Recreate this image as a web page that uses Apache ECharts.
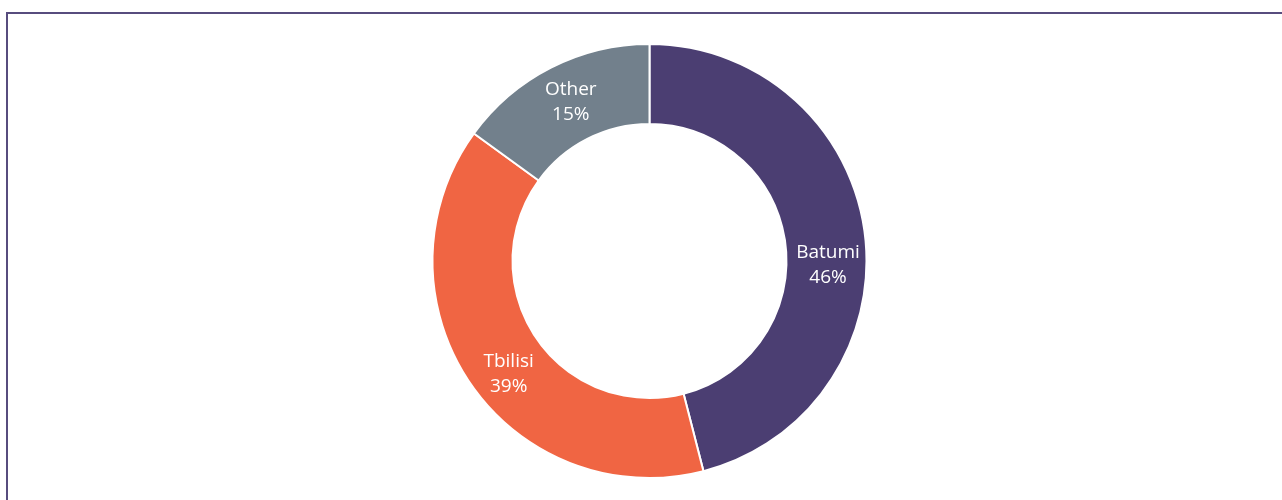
<!DOCTYPE html>
<html>
<head>
<meta charset="utf-8">
<script src="https://cdn.jsdelivr.net/npm/echarts@6/dist/echarts.min.js"></script>
<style>
	html, body { margin: 0; padding: 0; background: #fff; }
	#wrap { position: relative; width: 1282px; height: 500px; overflow: hidden; }
	#frame { position: absolute; left: 6px; top: 12px; width: 1300px; height: 520px; border-left: 2px solid #574c7e; border-top: 2px solid #574c7e; }
	#chart { position: absolute; left: 0; top: 0; width: 1282px; height: 500px; }
</style>
</head>
<body>
<div id="wrap">
	<div id="frame"></div>
	<div id="chart"></div>
</div>
<script>
	'use strict';

	/* data */
	var cities = ['Batumi', 'Tbilisi', 'Other'];
	var shares = [46, 39, 15];
	var colors = ['#4b3e72', '#f06543', '#72808c'];
	// small nudges so labels sit where the original put them
	var labelShift = [[0, 27], [8, 12], [3, 1]];

	var pieData = cities.map(function (name, i) {
		return {
			name: name,
			value: shares[i],
			label: { offset: labelShift[i] }
		};
	});

	var chart = echarts.init(document.getElementById('chart'));

	var option = {
		animation: false,
		color: colors,
		series: [
			{
				type: 'pie',
				center: [649.5, 261],
				radius: [137, 217],
				startAngle: 90,
				clockwise: true,
				avoidLabelOverlap: false,
				itemStyle: {
					borderColor: '#fff',
					borderWidth: 2
				},
				label: {
					show: true,
					position: 'inside',
					formatter: '{b}\n{c}%',
					color: '#fff',
					fontFamily: 'Open Sans',
					fontSize: 19,
					lineHeight: 25
				},
				labelLine: { show: false },
				emphasis: { disabled: true },
				data: pieData
			}
		]
	};
	chart.setOption(option);
</script>
</body>
</html>
